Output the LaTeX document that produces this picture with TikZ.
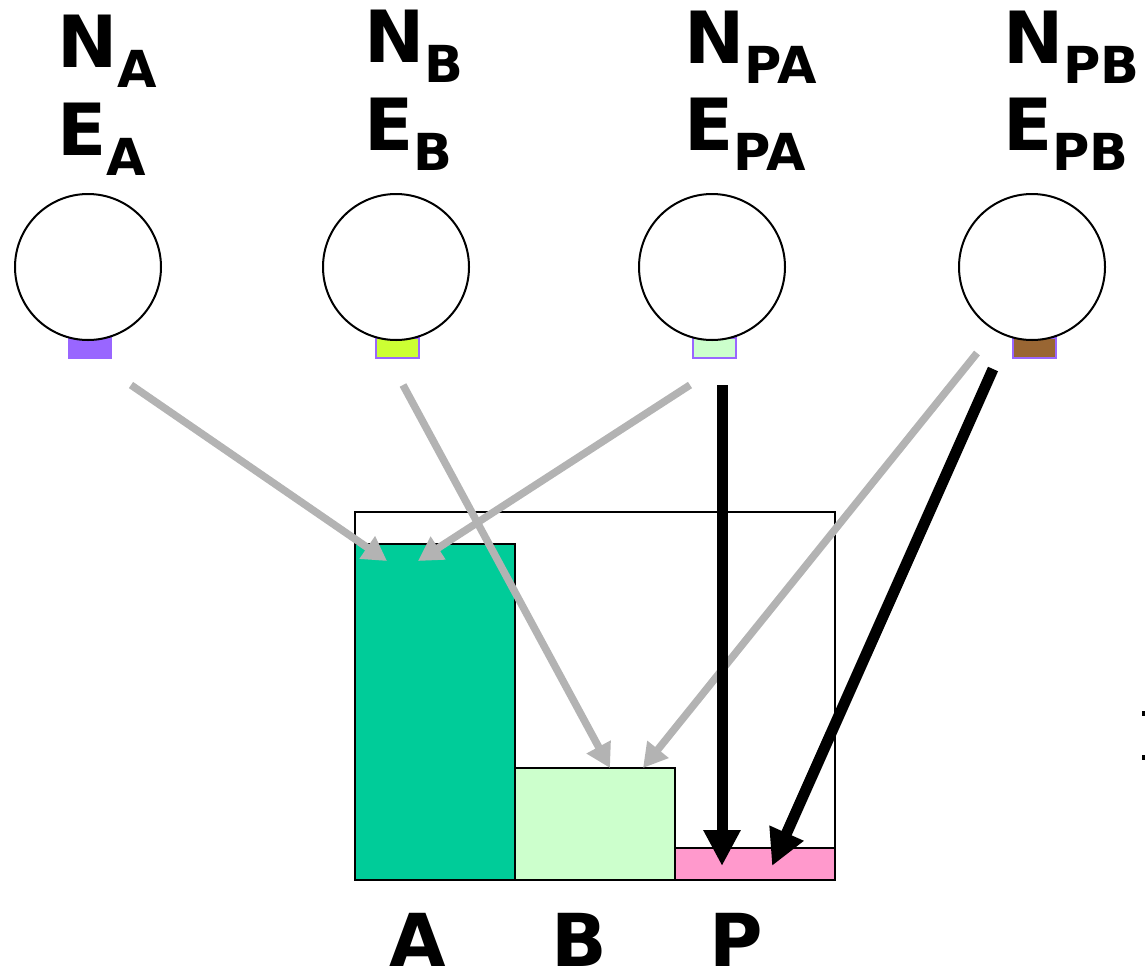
\documentclass[tikz,border=0pt]{standalone}
\usepackage{fontspec}
\setmainfont{DejaVu Sans}
\usetikzlibrary{arrows.meta}
\definecolor{grayarrow}{HTML}{B3B3B3}
\definecolor{tabA}{HTML}{9966FF}
\definecolor{tabB}{HTML}{CCFF33}
\definecolor{tabPA}{HTML}{CCFFCC}
\definecolor{tabPB}{HTML}{996633}
\definecolor{barA}{HTML}{00CC99}
\definecolor{barB}{HTML}{CCFFCC}
\definecolor{barP}{HTML}{FF99CC}
\tikzset{
  circ/.style={circle, draw=black, line width=2pt, fill=white, minimum size=146pt, inner sep=0pt},
  tab/.style={rectangle, draw=tabA, line width=1.5pt, minimum width=43pt, minimum height=20pt, inner sep=0pt},
  barbox/.style={rectangle, draw=black, line width=2pt, inner sep=0pt, anchor=south west},
  grayarr/.style={draw=grayarrow, line width=7.5pt, -{Triangle[length=24pt,width=26pt]}},
  blackarr/.style={draw=black, line width=11pt, -{Triangle[length=36pt,width=35pt]}},
  toplabel/.style={anchor=base west, inner sep=0pt, font=\fontsize{72}{90}\selectfont\bfseries},
  botlabel/.style={anchor=base, inner sep=0pt, text depth=0pt, font=\fontsize{73}{73}\selectfont\bfseries}
}
\newcommand{\subl}[1]{\raisebox{-20pt}{\fontsize{51}{51}\selectfont #1}}
\begin{document}
\begin{tikzpicture}[x=1pt,y=-1pt]
\useasboundingbox (0,0) rectangle (1145,972);
% labels
\node[toplabel] (lNA) at (57,67) {N\subl{A}};
\node[toplabel] (lEA) at (57,155) {E\subl{A}};
\node[toplabel] (lNB) at (364,62) {N\subl{B}};
\node[toplabel] (lEB) at (364,150) {E\subl{B}};
\node[toplabel] (lNPA) at (684,63) {N\subl{PA}};
\node[toplabel] (lEPA) at (684,150) {E\subl{PA}};
\node[toplabel] (lNPB) at (1003,63) {N\subl{PB}};
\node[toplabel] (lEPB) at (1003,150) {E\subl{PB}};
% tabs
\node[tab, draw=tabA, fill=tabA] (tA) at (90,348) {};
\node[tab, fill=tabB] (tB) at (397.5,348) {};
\node[tab, fill=tabPA] (tPA) at (714.5,348) {};
\node[tab, fill=tabPB] (tPB) at (1034.5,348) {};
% circles
\node[circ] (cA) at (88,267) {};
\node[circ] (cB) at (396,267) {};
\node[circ] (cPA) at (712,267) {};
\node[circ] (cPB) at (1032,267) {};
% chart
\node[barbox, minimum width=480pt, minimum height=368pt] (box) at (354,881) {};
\node[barbox, fill=barA, minimum width=160pt, minimum height=336pt] (bA) at (354,881) {};
\node[barbox, fill=barB, minimum width=160pt, minimum height=112pt] (bB) at (514,881) {};
\node[barbox, fill=barP, minimum width=160pt, minimum height=32pt] (bP) at (674,881) {};
% arrow coordinates
\coordinate (sA) at (131,385);
\coordinate (sB) at (403,385);
\coordinate (sPA1) at (690,385);
\coordinate (sPA2) at (722,385);
\coordinate (sPB1) at (977,353);
\coordinate (sPB2) at (993,369);
\coordinate (eA1) at (387,561);
\coordinate (eA2) at (418,561);
\coordinate (eB1) at (610,768);
\coordinate (eB2) at (643,768);
\coordinate (eP1) at (722,866);
\coordinate (eP2) at (772,866);
% arrows
\draw[grayarr] (sA) -- (eA1);
\draw[grayarr] (sB) -- (eB1);
\draw[grayarr] (sPA1) -- (eA2);
\draw[grayarr] (sPB1) -- (eB2);
\draw[blackarr] (sPA2) -- (eP1);
\draw[blackarr] (sPB2) -- (eP2);
% bottom labels
\node[botlabel] (xA) at (418,966) {A};
\node[botlabel] (xB) at (579,966) {B};
\node[botlabel] (xP) at (736,966) {P};
% edge fragments
\fill[black] (1142,711) rectangle (1145,716);
\fill[black] (1142,755) rectangle (1145,760);
\end{tikzpicture}
\end{document}
